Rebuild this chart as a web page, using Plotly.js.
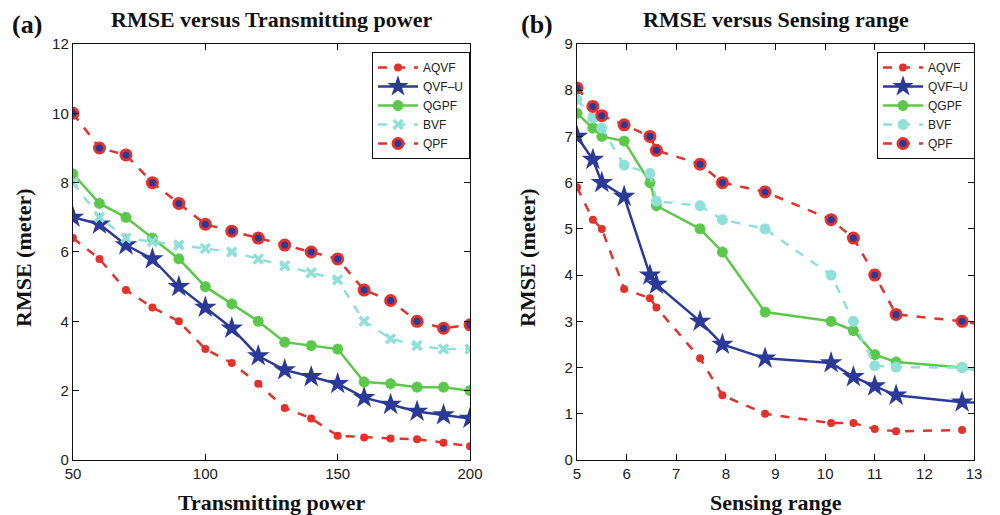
<!DOCTYPE html>
<html><head><meta charset="utf-8">
<script src="https://cdn.plot.ly/plotly-3.0.1.min.js"></script>
<style>html,body{margin:0;padding:0;background:#fff}#c{width:1000px;height:515px}</style>
</head><body><div id="c"></div>
<script>
// Panel (a): RMSE versus Transmitting power
const powerX = [50,60,70,80,90,100,110,120,130,140,150,160,170,180,190,200];
const powerAQVF = [6.4,5.8,4.9,4.4,4.0,3.2,2.8,2.2,1.5,1.2,0.7,0.65,0.62,0.6,0.5,0.4];
const powerQVFU = [7.0,6.8,6.2,5.8,5.0,4.4,3.8,3.0,2.6,2.4,2.2,1.8,1.6,1.4,1.3,1.2];
const powerQGPF = [8.25,7.4,7.0,6.4,5.8,5.0,4.5,4.0,3.4,3.3,3.2,2.25,2.2,2.1,2.1,2.0];
const powerBVF  = [8.0,7.0,6.4,6.3,6.2,6.1,6.0,5.8,5.6,5.4,5.2,4.0,3.5,3.3,3.2,3.2];
const powerQPF  = [10.0,9.0,8.8,8.0,7.4,6.8,6.6,6.4,6.2,6.0,5.8,4.9,4.6,4.0,3.8,3.9];

// Panel (b): RMSE versus Sensing range (last value of the longer series lies just past the axis end)
const rangeX     = [5.0,5.32,5.5,5.95,6.47,6.6,7.48,7.93,8.79,10.12,10.57,11.0,11.43,12.76];
const rangeXLong = [5.0,5.32,5.5,5.95,6.47,6.6,7.48,7.93,8.79,10.12,10.57,11.0,11.43,12.76,13.3];
const rangeAQVF = [5.9,5.2,5.0,3.7,3.5,3.3,2.2,1.4,1.0,0.8,0.8,0.67,0.62,0.65];
const rangeQVFU = [7.0,6.5,6.0,5.7,4.0,3.8,3.0,2.5,2.2,2.1,1.8,1.6,1.4,1.25,1.24];
const rangeQGPF = [7.5,7.18,7.0,6.9,6.0,5.5,5.0,4.5,3.2,3.0,2.8,2.28,2.12,2.0,1.9];
const rangeBVF  = [7.8,7.4,7.18,6.38,6.2,5.6,5.5,5.2,5.0,4.0,3.0,2.04,2.01,2.0,1.9];
const rangeQPF  = [8.05,7.65,7.45,7.25,7.0,6.7,6.4,6.0,5.8,5.2,4.8,4.0,3.15,3.0,2.9];

const seriesNames = ['AQVF','QVF\u2013U','QGPF','BVF','QPF'];

const RED='#e3312b', BLUE='#2b3a98', GREEN='#5cc84a', CYAN='#8fe0d8';

function styles(bvfSymbol){
  return [
    {line:{color:RED,width:2.5,dash:'dash'},marker:{symbol:'circle',size:8,color:RED}},
    {line:{color:BLUE,width:2.5},marker:{symbol:'star',size:17,color:BLUE}},
    {line:{color:GREEN,width:2.5},marker:{symbol:'asterisk-open',size:9,color:GREEN,line:{color:GREEN,width:3.5}}},
    {line:{color:CYAN,width:2.5,dash:'dash'},marker:{symbol:bvfSymbol,size:9,color:CYAN,line:{color:CYAN,width:3.5}}},
    {line:{color:RED,width:2.5,dash:'dash'},marker:{symbol:'circle',size:10,color:BLUE,line:{color:RED,width:3}}}
  ];
}

const traces=[];
const sa = styles('x-thin-open');
[powerAQVF,powerQVFU,powerQGPF,powerBVF,powerQPF].forEach((ys,i)=>{
  traces.push(Object.assign({type:'scatter',mode:'lines+markers',x:powerX,y:ys,name:seriesNames[i],xaxis:'x',yaxis:'y',legend:'legend'},sa[i]));
});
const sb = styles('asterisk-open');
[rangeAQVF,rangeQVFU,rangeQGPF,rangeBVF,rangeQPF].forEach((ys,i)=>{
  const xs = ys.length===rangeXLong.length ? rangeXLong : rangeX;
  traces.push(Object.assign({type:'scatter',mode:'lines+markers',x:xs,y:ys,name:seriesNames[i],xaxis:'x2',yaxis:'y2',legend:'legend2'},sb[i]));
});

const tickFont={family:'Liberation Sans, Arial, sans-serif',size:15,color:'#1a1a1a'};
function ax(extra){
  return Object.assign({showline:true,linecolor:'#111',linewidth:1.2,mirror:'allticks',ticks:'inside',ticklen:6,tickwidth:1,tickcolor:'#111',showgrid:false,zeroline:false,tickfont:tickFont},extra);
}
const serif='Liberation Serif, Times New Roman, serif';
const legendBase={bordercolor:'#111',borderwidth:1,bgcolor:'#fff',font:{family:'Liberation Sans, Arial, sans-serif',size:12,color:'#222'},xanchor:'left',yanchor:'top',tracegroupgap:0,itemwidth:40};

const layout={
  width:1000,height:515,margin:{l:0,r:0,t:0,b:0},paper_bgcolor:'#fff',plot_bgcolor:'#fff',showlegend:true,
  xaxis:ax({domain:[0.073,0.470],range:[50,200],tickvals:[50,100,150,200],anchor:'y'}),
  yaxis:ax({domain:[0.1068,0.9146],range:[0,12],dtick:2,anchor:'x'}),
  xaxis2:ax({domain:[0.577,0.974],range:[5,13],dtick:1,anchor:'y2'}),
  yaxis2:ax({domain:[0.1068,0.9146],range:[0,9],dtick:1,anchor:'x2'}),
  legend:Object.assign({x:0.372,y:0.899},legendBase),
  legend2:Object.assign({x:0.877,y:0.899},legendBase),
  annotations:[
    {text:'<b>RMSE versus Transmitting power</b>',xref:'paper',yref:'paper',x:0.2715,y:1-20/515,xanchor:'center',yanchor:'middle',showarrow:false,font:{family:serif,size:22,color:'#111'}},
    {text:'<b>RMSE versus Sensing range</b>',xref:'paper',yref:'paper',x:0.7755,y:1-20/515,xanchor:'center',yanchor:'middle',showarrow:false,font:{family:serif,size:22,color:'#111'}},
    {text:'<b>(a)</b>',xref:'paper',yref:'paper',x:0.027,y:1-25/515,xanchor:'center',yanchor:'middle',showarrow:false,font:{family:serif,size:26,color:'#111'}},
    {text:'<b>(b)</b>',xref:'paper',yref:'paper',x:0.537,y:1-25/515,xanchor:'center',yanchor:'middle',showarrow:false,font:{family:serif,size:26,color:'#111'}},
    {text:'<b>Transmitting power</b>',xref:'paper',yref:'paper',x:0.2715,y:1-502/515,xanchor:'center',yanchor:'middle',showarrow:false,font:{family:serif,size:22,color:'#111'}},
    {text:'<b>Sensing range</b>',xref:'paper',yref:'paper',x:0.7755,y:1-502/515,xanchor:'center',yanchor:'middle',showarrow:false,font:{family:serif,size:22,color:'#111'}},
    {text:'<b>RMSE (meter)</b>',xref:'paper',yref:'paper',x:0.023,y:1-258/515,xanchor:'center',yanchor:'middle',textangle:-90,showarrow:false,font:{family:serif,size:22,color:'#111'}},
    {text:'<b>RMSE (meter)</b>',xref:'paper',yref:'paper',x:0.527,y:1-258/515,xanchor:'center',yanchor:'middle',textangle:-90,showarrow:false,font:{family:serif,size:22,color:'#111'}}
  ]
};
Plotly.newPlot('c',traces,layout,{staticPlot:true});
</script></body></html>
